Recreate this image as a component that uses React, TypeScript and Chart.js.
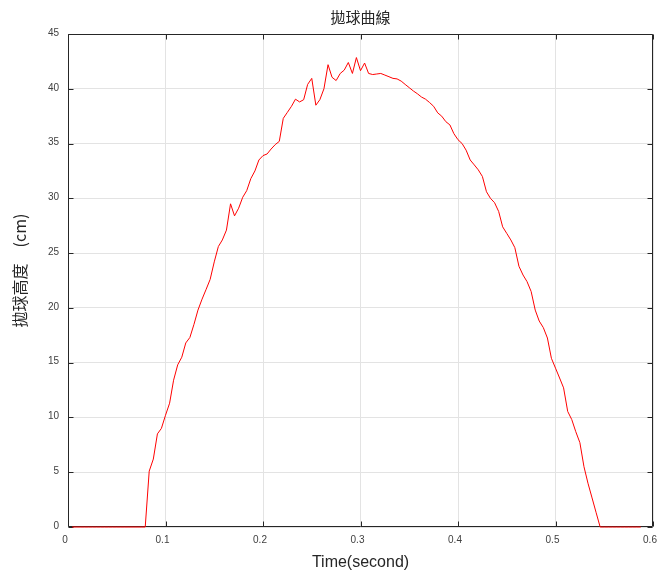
import React, { useEffect, useRef } from "react";
import { Chart, registerables } from "chart.js";

Chart.register(...registerables);

const TITLE = "拋球曲線";
const X_TITLE = "Time(second)";
const Y_TITLE = "拋球高度　(cm)";

const X_TICKS = [0, 0.1, 0.2, 0.3, 0.4, 0.5, 0.6];
const Y_TICKS = [0, 5, 10, 15, 20, 25, 30, 35, 40, 45];

// sample times (s), 240 frames per second
const TIMES = [
  0.0042, 0.0083, 0.0125, 0.0167, 0.0208, 0.025, 0.0292, 0.0333, 0.0375, 0.0417,
  0.0458, 0.05, 0.0542, 0.0583, 0.0625, 0.0667, 0.0708, 0.075, 0.0792, 0.0833,
  0.0875, 0.0917, 0.0958, 0.1, 0.1042, 0.1083, 0.1125, 0.1167, 0.1208, 0.125,
  0.1292, 0.1333, 0.1375, 0.1417, 0.1458, 0.15, 0.1542, 0.1583, 0.1625, 0.1667,
  0.1708, 0.175, 0.1792, 0.1833, 0.1875, 0.1917, 0.1958, 0.2, 0.2042, 0.2083,
  0.2125, 0.2167, 0.2208, 0.225, 0.2292, 0.2333, 0.2375, 0.2417, 0.2458, 0.25,
  0.2542, 0.2583, 0.2625, 0.2667, 0.2708, 0.275, 0.2792, 0.2833, 0.2875, 0.2917,
  0.2958, 0.3, 0.3042, 0.3083, 0.3125, 0.3167, 0.3208, 0.325, 0.3292, 0.3333,
  0.3375, 0.3417, 0.3458, 0.35, 0.3542, 0.3583, 0.3625, 0.3667, 0.3708, 0.375,
  0.3792, 0.3833, 0.3875, 0.3917, 0.3958, 0.4, 0.4042, 0.4083, 0.4125, 0.4167,
  0.4208, 0.425, 0.4292, 0.4333, 0.4375, 0.4417, 0.4458, 0.45, 0.4542, 0.4583,
  0.4625, 0.4667, 0.4708, 0.475, 0.4792, 0.4833, 0.4875, 0.4917, 0.4958, 0.5,
  0.5042, 0.5083, 0.5125, 0.5167, 0.5208, 0.525, 0.5292, 0.5333, 0.5375, 0.5417,
  0.5458, 0.55, 0.5542, 0.5583, 0.5625, 0.5667, 0.5708, 0.575, 0.5792, 0.5833,
  0.5875,
];

// ball height (cm)
const HEIGHTS = [
  0, 0, 0, 0, 0, 0, 0, 0, 0, 0,
  0, 0, 0, 0, 0, 0, 0, 0, 0, 5.1,
  6.2, 8.5, 9.0, 10.2, 11.3, 13.4, 14.8, 15.5, 16.8, 17.3,
  18.5, 19.8, 20.8, 21.7, 22.6, 24.2, 25.6, 26.2, 27.1, 29.5,
  28.4, 29.1, 30.1, 30.7, 31.8, 32.5, 33.5, 33.9, 34.05, 34.5,
  34.9, 35.2, 37.3, 37.85, 38.4, 39.05, 38.8, 39.0, 40.4, 40.95,
  38.5, 39.0, 40.0, 42.2, 41.05, 40.75, 41.4, 41.7, 42.4, 41.4,
  42.85, 41.65, 42.35, 41.4, 41.3, 41.35, 41.4, 41.25, 41.1, 40.95,
  40.9, 40.7, 40.4, 40.1, 39.8, 39.55, 39.25, 39.05, 38.75, 38.4,
  37.8, 37.5, 37.0, 36.7, 35.9, 35.35, 35.0, 34.4, 33.5, 33.05,
  32.6, 32.0, 30.6, 30.0, 29.6, 28.8, 27.4, 26.8, 26.2, 25.5,
  23.8, 23.0, 22.4, 21.5, 19.8, 18.8, 18.2, 17.25, 15.4, 14.5,
  13.6, 12.7, 10.55, 9.8, 8.7, 7.7, 5.5, 4.0, 2.65, 1.3,
  0, 0, 0, 0, 0, 0, 0, 0, 0, 0,
  0,
];

const AXIS_COLOR = "#262626";
const TEXT_COLOR = "#262626";
const TICK_COLOR = "#404040";
const GRID_COLOR = "#e3e3e3";
const LATIN = "'Liberation Sans', Arial, sans-serif";
const CJK = "'Noto Sans CJK TC', 'Liberation Sans', sans-serif";

const framePlugin = {
  id: "frameBox",
  beforeDatasetsDraw(chart: any) {
    const { ctx, chartArea: a, scales } = chart;
    const L = Math.round(a.left) + 0.5;
    const R = Math.round(a.right) - 0.5;
    const T = Math.round(a.top) + 0.5;
    const B = Math.round(a.bottom) - 0.5;
    ctx.save();
    ctx.strokeStyle = AXIS_COLOR;
    ctx.lineWidth = 1;
    ctx.beginPath();
    ctx.rect(L, T, R - L, B - T);
    ctx.stroke();
    ctx.beginPath();
    for (const v of X_TICKS) {
      const px = Math.round(scales.x.getPixelForValue(v)) + 0.5;
      ctx.moveTo(px, B);
      ctx.lineTo(px, B - 5);
      ctx.moveTo(px, T);
      ctx.lineTo(px, T + 5);
    }
    for (const v of Y_TICKS) {
      const py = Math.round(scales.y.getPixelForValue(v)) + 0.5;
      ctx.moveTo(L, py);
      ctx.lineTo(L + 5, py);
      ctx.moveTo(R, py);
      ctx.lineTo(R - 5, py);
    }
    ctx.stroke();
    ctx.restore();
  },
  afterDraw(chart: any) {
    const { ctx, chartArea: a } = chart;
    ctx.save();
    ctx.fillStyle = TEXT_COLOR;
    ctx.textAlign = "center";
    ctx.textBaseline = "middle";
    ctx.font = "15px " + CJK;
    ctx.fillText(TITLE, (a.left + a.right) / 2, 17);

    ctx.translate(20, (a.top + a.bottom) / 2 - 10);
    ctx.rotate(-Math.PI / 2);
    ctx.font = "16px " + CJK;
    ctx.fillText(Y_TITLE, 0, 0);
    ctx.restore();
  },
};

export default function App() {
  const canvasRef = useRef<HTMLCanvasElement | null>(null);

  useEffect(() => {
    const canvas = canvasRef.current;
    if (!canvas) return;
    const points = TIMES.map((t, i) => ({ x: t, y: HEIGHTS[i] }));
    const chart = new Chart(canvas, {
      type: "line",
      data: {
        datasets: [
          {
            data: points,
            borderColor: "#ff0000",
            borderWidth: 1,
            pointRadius: 0,
            tension: 0,
            fill: false,
            clip: false,
          },
        ],
      },
      options: {
        responsive: false,
        animation: false,
        devicePixelRatio: 1,
        layout: { padding: { top: 34, right: 5, left: 0, bottom: 0 } },
        plugins: {
          legend: { display: false },
          title: { display: false },
          tooltip: { enabled: false },
        },
        scales: {
          x: {
            type: "linear",
            min: 0,
            max: 0.6,
            afterFit: (s: any) => {
              s.height = 49;
              s.paddingLeft = 0;
              s.paddingRight = 0;
            },
            afterBuildTicks: (s: any) => {
              s.ticks = X_TICKS.map((v) => ({ value: v }));
            },
            ticks: {
              color: TICK_COLOR,
              font: { family: LATIN, size: 10 },
              padding: 7,
              labelOffset: -3,
              maxRotation: 0,
              callback: (v: any) => String(Math.round(Number(v) * 10) / 10),
            },
            grid: { color: GRID_COLOR, drawTicks: false },
            border: { display: false },
            title: {
              display: true,
              text: X_TITLE,
              color: TEXT_COLOR,
              font: { family: LATIN, size: 16 },
              padding: { top: 0, bottom: 4 },
            },
          },
          y: {
            type: "linear",
            min: 0,
            max: 45,
            afterFit: (s: any) => {
              s.width = 68;
              s.paddingTop = 0;
              s.paddingBottom = 0;
            },
            afterBuildTicks: (s: any) => {
              s.ticks = Y_TICKS.map((v) => ({ value: v }));
            },
            ticks: {
              color: TICK_COLOR,
              font: { family: LATIN, size: 10 },
              padding: 9,
              labelOffset: -1,
              callback: (v: any) => String(v),
            },
            grid: { color: GRID_COLOR, drawTicks: false },
            border: { display: false },
          },
        },
      },
      plugins: [framePlugin],
    });
    return () => chart.destroy();
  }, []);

  return (
    <div style={{ position: "absolute", left: 0, top: 0, width: 658, height: 576, background: "#fff" }}>
      <canvas ref={canvasRef} width={658} height={576} style={{ display: "block" }} />
    </div>
  );
}
